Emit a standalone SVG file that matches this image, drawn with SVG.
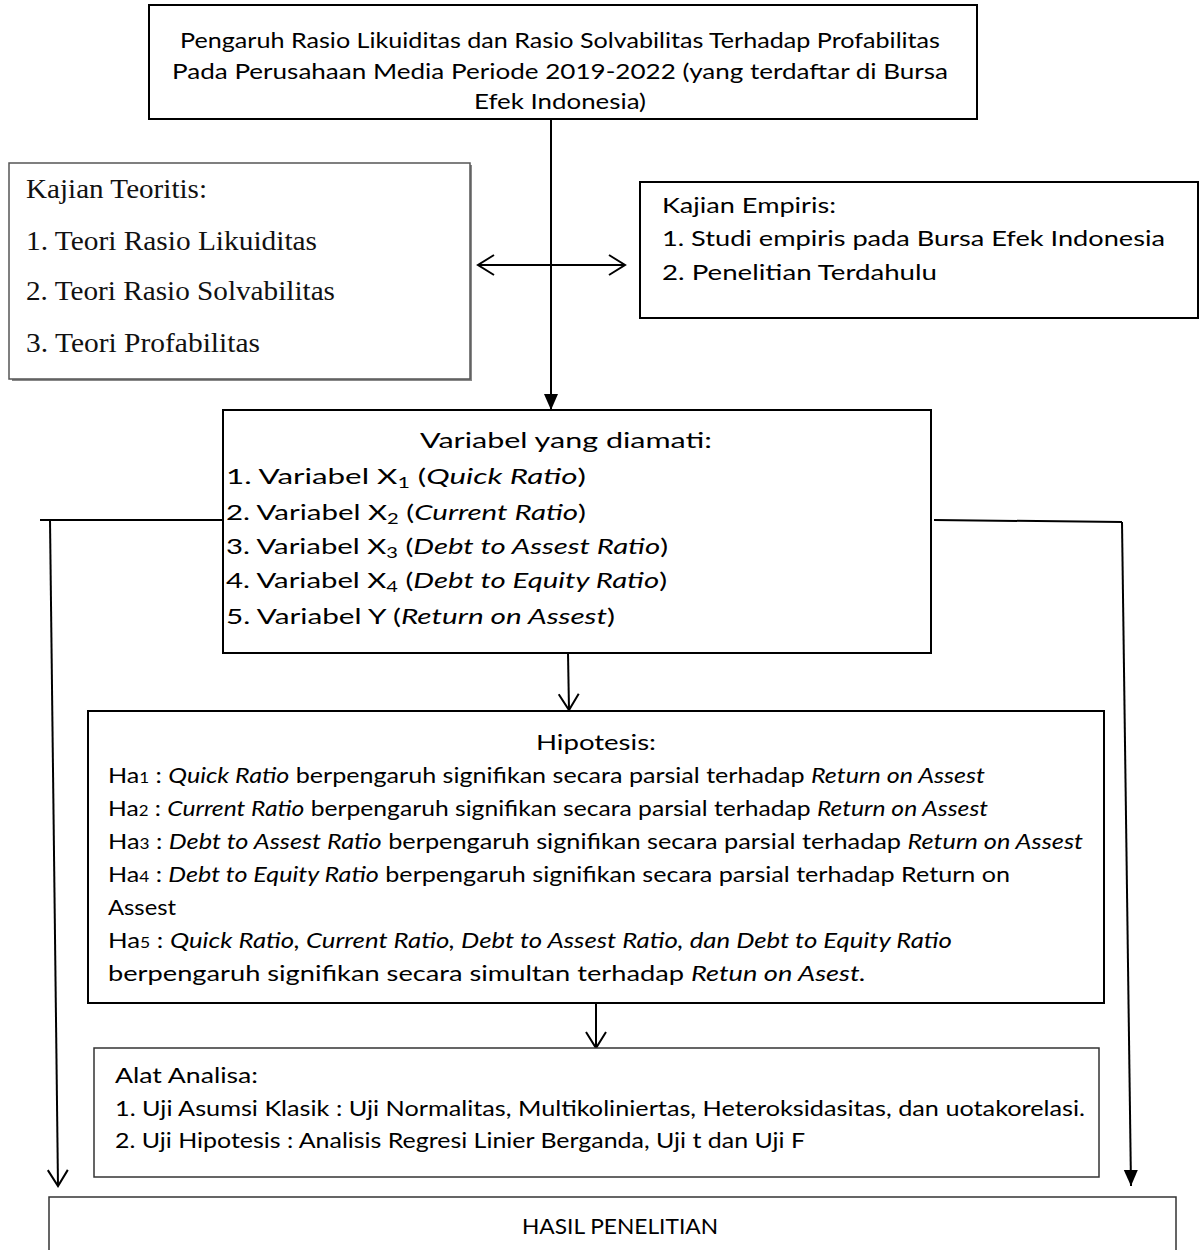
<svg xmlns="http://www.w3.org/2000/svg" width="1200" height="1250" viewBox="0 0 1200 1250">
<style>
  .box{fill:#fff;stroke:#000;stroke-width:2}
  .thin{fill:#fff;stroke:#333;stroke-width:1.5}
  .t{font-family:Lato,"Open Sans","Liberation Sans",sans-serif;font-size:22px;fill:#000}
  .serif{font-family:"Liberation Serif","DejaVu Serif",serif;font-size:27px;fill:#111}
  .i{font-style:italic}
  .c{text-anchor:middle}
  .ln{fill:none;stroke:#000;stroke-width:2}
</style>
<defs>
  <marker id="open" markerUnits="userSpaceOnUse" markerWidth="24" markerHeight="24" viewBox="0 0 24 24" refX="20" refY="12" orient="auto">
    <path d="M4,2 L20,12 L4,22" fill="none" stroke="#000" stroke-width="2"/>
  </marker>
  <marker id="openStart" markerUnits="userSpaceOnUse" markerWidth="24" markerHeight="24" viewBox="0 0 24 24" refX="4" refY="12" orient="auto">
    <path d="M20,2 L4,12 L20,22" fill="none" stroke="#000" stroke-width="2"/>
  </marker>
  <marker id="filled" markerUnits="userSpaceOnUse" markerWidth="20" markerHeight="20" viewBox="0 0 20 20" refX="18" refY="10" orient="auto">
    <path d="M2,3 L18,10 L2,17 Z" fill="#000"/>
  </marker>
</defs>

<g id="connectors">
  <line class="ln" x1="551" y1="119" x2="551" y2="410" marker-end="url(#filled)"/>
  <line class="ln" x1="478" y1="265" x2="625" y2="265" marker-start="url(#openStart)" marker-end="url(#open)"/>
  <line class="ln" x1="40" y1="520" x2="223" y2="520"/>
  <line class="ln" x1="50" y1="520" x2="58" y2="1186" marker-end="url(#open)"/>
  <polyline class="ln" points="934,520 1122,522"/>
  <line class="ln" x1="1122" y1="522" x2="1131" y2="1186" marker-end="url(#filled)"/>
  <line class="ln" x1="568" y1="653" x2="569" y2="710" marker-end="url(#open)"/>
  <line class="ln" x1="596" y1="1004" x2="596" y2="1048" marker-end="url(#open)"/>
</g>

<g id="node-judul">
  <rect class="box" x="149" y="5" width="828" height="114"/>
  <text class="t c" x="560" y="48" font-size="21" textLength="760" lengthAdjust="spacingAndGlyphs">Pengaruh Rasio Likuiditas dan Rasio Solvabilitas Terhadap Profabilitas</text>
  <text class="t c" x="560" y="79" font-size="21" textLength="776" lengthAdjust="spacingAndGlyphs">Pada Perusahaan Media Periode 2019-2022 (yang terdaftar di Bursa</text>
  <text class="t c" x="560" y="109" font-size="21" textLength="172" lengthAdjust="spacingAndGlyphs">Efek Indonesia)</text>
</g>

<g id="node-teoritis">
  <rect x="12" y="165" width="460" height="216" fill="#888"/>
  <rect x="9" y="163" width="461" height="216" fill="#fff" stroke="#555" stroke-width="1.5"/>
  <text class="serif" x="26" y="198" textLength="181" lengthAdjust="spacingAndGlyphs">Kajian Teoritis:</text>
  <text class="serif" x="26" y="250" textLength="291" lengthAdjust="spacingAndGlyphs">1. Teori Rasio Likuiditas</text>
  <text class="serif" x="26" y="300" textLength="309" lengthAdjust="spacingAndGlyphs">2. Teori Rasio Solvabilitas</text>
  <text class="serif" x="26" y="352" textLength="234" lengthAdjust="spacingAndGlyphs">3. Teori Profabilitas</text>
</g>

<g id="node-empiris">
  <rect class="box" x="640" y="182" width="558" height="136"/>
  <text class="t" x="662" y="213" textLength="174" lengthAdjust="spacingAndGlyphs">Kajian Empiris:</text>
  <text class="t" x="662" y="246" textLength="503" lengthAdjust="spacingAndGlyphs">1. Studi empiris pada Bursa Efek Indonesia</text>
  <text class="t" x="662" y="280" textLength="275" lengthAdjust="spacingAndGlyphs">2. Penelitian Terdahulu</text>
</g>

<g id="node-variabel">
  <rect class="box" x="223" y="410" width="708" height="243"/>
  <text class="t c" x="566" y="448" textLength="292" lengthAdjust="spacingAndGlyphs">Variabel yang diamati:</text>
  <text class="t" x="226" y="484" textLength="360" lengthAdjust="spacingAndGlyphs">1. Variabel X<tspan font-size="15" dy="4">1</tspan><tspan dy="-4"> (</tspan><tspan class="i">Quick Ratio</tspan>)</text>
  <text class="t" x="226" y="520" textLength="360" lengthAdjust="spacingAndGlyphs">2. Variabel X<tspan font-size="15" dy="4">2</tspan><tspan dy="-4"> (</tspan><tspan class="i">Current Ratio</tspan>)</text>
  <text class="t" x="226" y="554" textLength="442" lengthAdjust="spacingAndGlyphs">3. Variabel X<tspan font-size="15" dy="4">3</tspan><tspan dy="-4"> (</tspan><tspan class="i">Debt to Assest Ratio</tspan>)</text>
  <text class="t" x="226" y="588" textLength="441" lengthAdjust="spacingAndGlyphs">4. Variabel X<tspan font-size="15" dy="4">4</tspan><tspan dy="-4"> (</tspan><tspan class="i">Debt to Equity Ratio</tspan>)</text>
  <text class="t" x="226" y="624" textLength="389" lengthAdjust="spacingAndGlyphs">5. Variabel Y (<tspan class="i">Return on Assest</tspan>)</text>
</g>

<g id="node-hipotesis">
  <rect class="box" x="88" y="711" width="1016" height="292"/>
  <text class="t c" x="596" y="750" textLength="120" lengthAdjust="spacingAndGlyphs">Hipotesis:</text>
  <text class="t" x="108" y="783" textLength="877" lengthAdjust="spacingAndGlyphs">Ha<tspan font-size="15">1</tspan> : <tspan class="i">Quick Ratio</tspan> berpengaruh signifikan secara parsial terhadap <tspan class="i">Return on Assest</tspan></text>
  <text class="t" x="108" y="816" textLength="880" lengthAdjust="spacingAndGlyphs">Ha<tspan font-size="15">2</tspan> : <tspan class="i">Current Ratio</tspan> berpengaruh signifikan secara parsial terhadap <tspan class="i">Return on Assest</tspan></text>
  <text class="t" x="108" y="849" textLength="975" lengthAdjust="spacingAndGlyphs">Ha<tspan font-size="15">3</tspan> : <tspan class="i">Debt to Assest Ratio</tspan> berpengaruh signifikan secara parsial terhadap <tspan class="i">Return on Assest</tspan></text>
  <text class="t" x="108" y="882" textLength="902" lengthAdjust="spacingAndGlyphs">Ha<tspan font-size="15">4</tspan> : <tspan class="i">Debt to Equity Ratio</tspan> berpengaruh signifikan secara parsial terhadap Return on</text>
  <text class="t" x="108" y="915" textLength="68" lengthAdjust="spacingAndGlyphs">Assest</text>
  <text class="t" x="108" y="948" textLength="844" lengthAdjust="spacingAndGlyphs">Ha<tspan font-size="15">5</tspan> : <tspan class="i">Quick Ratio, Current Ratio, Debt to Assest Ratio, dan Debt to Equity Ratio</tspan></text>
  <text class="t" x="108" y="981" textLength="758" lengthAdjust="spacingAndGlyphs">berpengaruh signifikan secara simultan terhadap <tspan class="i">Retun on Asest.</tspan></text>
</g>

<g id="node-alat">
  <rect class="thin" x="94" y="1048" width="1005" height="129"/>
  <text class="t" x="115" y="1083" textLength="143" lengthAdjust="spacingAndGlyphs">Alat Analisa:</text>
  <text class="t" x="115" y="1116" textLength="970" lengthAdjust="spacingAndGlyphs">1. Uji Asumsi Klasik : Uji Normalitas, Multikoliniertas, Heteroksidasitas, dan uotakorelasi.</text>
  <text class="t" x="115" y="1148" textLength="690" lengthAdjust="spacingAndGlyphs">2. Uji Hipotesis : Analisis Regresi Linier Berganda, Uji t dan Uji F</text>
</g>

<g id="node-hasil">
  <rect class="thin" x="49" y="1197" width="1127" height="70"/>
  <text class="t c" x="620" y="1234" textLength="196" lengthAdjust="spacingAndGlyphs">HASIL PENELITIAN</text>
</g>
</svg>
